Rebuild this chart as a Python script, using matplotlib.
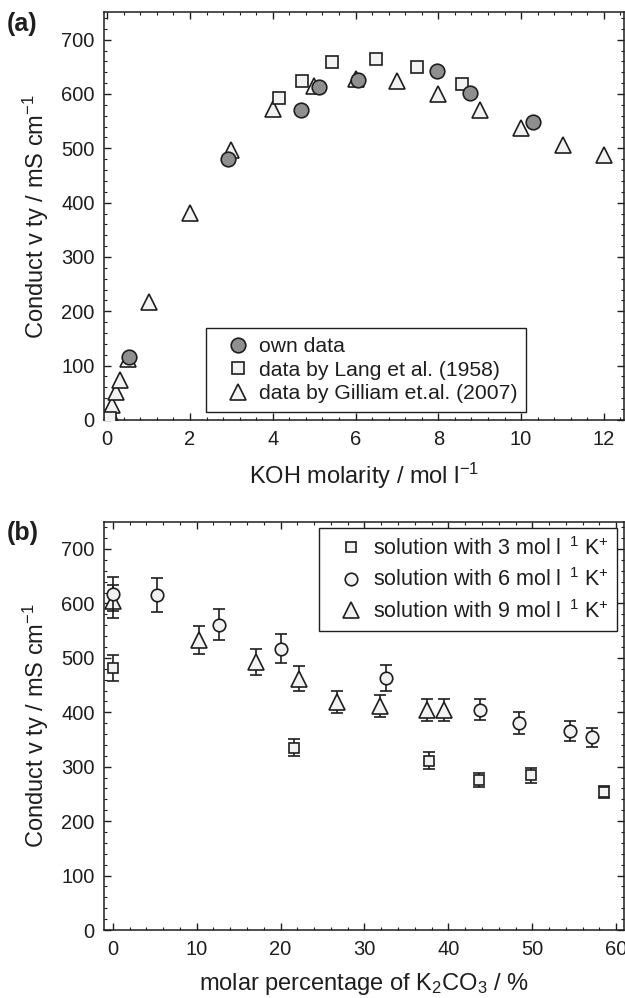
import numpy as np
import matplotlib
matplotlib.use('Agg')
import matplotlib.pyplot as plt
from matplotlib.ticker import MultipleLocator

plt.rcParams['font.family'] = ['Liberation Sans', 'DejaVu Sans']
plt.rcParams['mathtext.fontset'] = 'custom'
plt.rcParams['mathtext.rm'] = 'Liberation Sans'
plt.rcParams['mathtext.it'] = 'Liberation Sans:italic'
plt.rcParams['mathtext.bf'] = 'Liberation Sans:bold'
plt.rcParams['text.color'] = '#1e1e1e'
plt.rcParams['axes.labelcolor'] = '#1e1e1e'
plt.rcParams['xtick.color'] = '#1e1e1e'
plt.rcParams['ytick.color'] = '#1e1e1e'

# ---- panel (a): conductivity vs KOH molarity ----
own_x = [0.53, 2.91, 4.69, 5.11, 6.07, 7.97, 8.77, 10.29]
own_y = [116, 481, 570, 612, 626, 642, 602, 549]

lang_x = [0.0, 0.03, 0.06, 4.14, 4.70, 5.42, 6.50, 7.48, 8.57]
lang_y = [1, 2, 4, 592, 624, 658, 665, 649, 619]

gill_x = [0.01, 0.06, 0.11, 0.22, 0.30, 0.50, 1, 2, 3, 4, 5, 6, 7, 8, 9, 10, 11, 12]
gill_y = [2, 12, 28, 52, 73, 113, 217, 381, 496, 573, 615, 627, 624, 600, 570, 537, 506, 487]

# ---- panel (b): conductivity vs K2CO3 share ----
k3_x = [0, 21.6, 37.7, 43.7, 49.9, 58.6]
k3_y = [482, 335, 311, 276, 284, 253]
k3_e = [24, 16, 16, 13, 13, 11]

k6_x = [0, 5.3, 12.7, 20.0, 32.6, 43.8, 48.4, 54.5, 57.1]
k6_y = [617, 616, 561, 517, 463, 405, 380, 366, 354]
k6_e = [31, 31, 28, 26, 23, 20, 20, 18, 18]

k9_x = [0, 10.3, 17.1, 22.2, 26.7, 31.9, 37.4, 39.5]
k9_y = [604, 533, 492, 462, 419, 411, 404, 404]
k9_e = [30, 26, 24, 23, 20, 20, 20, 20]

light = '#f2f2f2'
dark = '#8f8f8f'
ink = '#1e1e1e'

fig = plt.figure(figsize=(6.25, 9.98), dpi=100)
ax1 = fig.add_axes([0.167, 0.5792, 0.831, 0.4083])
ax2 = fig.add_axes([0.167, 0.0681, 0.831, 0.4091])

ax1.plot(gill_x, gill_y, ls='none', marker='^', ms=12, mfc=light, mec=ink, mew=1.2,
         label='data by Gilliam et.al. (2007)', zorder=3)
ax1.plot(lang_x, lang_y, ls='none', marker='s', ms=8.5, mfc=light, mec=ink, mew=1.2,
         label='data by Lang et al. (1958)', zorder=4)
ax1.plot(own_x, own_y, ls='none', marker='o', ms=10.5, mfc=dark, mec=ink, mew=1.2,
         label='own data', zorder=5)

h, l = ax1.get_legend_handles_labels()
leg1 = ax1.legend(h[::-1], l[::-1], loc='lower left', bbox_to_anchor=(0.195, 0.019),
                  borderaxespad=0, fontsize=15.2, frameon=True, fancybox=False,
                  edgecolor=ink, framealpha=1, numpoints=1, borderpad=0.42,
                  handlelength=2.2, handletextpad=-0.1, labelspacing=0.22)
leg1.get_frame().set_linewidth(1.0)

ax1.set_xlim(-0.07, 12.48)
ax1.set_ylim(0, 750)
ax1.xaxis.set_major_locator(MultipleLocator(2))
ax1.xaxis.set_minor_locator(MultipleLocator(0.4))
ax1.yaxis.set_major_locator(MultipleLocator(100))
ax1.yaxis.set_minor_locator(MultipleLocator(20))
ax1.set_xlabel('KOH molarity / mol l$^{-1}$', fontsize=17, labelpad=9)
ax1.set_ylabel('Conduct v ty / mS cm$^{-1}$', fontsize=17, labelpad=7)

eb = dict(ls='none', ecolor=ink, elinewidth=1.2, capsize=4.5, capthick=1.2, mec=ink, mew=1.2, mfc=light)
ax2.errorbar(k3_x, k3_y, yerr=k3_e, marker='s', ms=7.5, label='solution with 3 mol l$^{\\ \\ 1}$ K$^{+}$', zorder=3, **eb)
ax2.errorbar(k6_x, k6_y, yerr=k6_e, marker='o', ms=9, label='solution with 6 mol l$^{\\ \\ 1}$ K$^{+}$', zorder=4, **eb)
ax2.errorbar(k9_x, k9_y, yerr=k9_e, marker='^', ms=11.5, label='solution with 9 mol l$^{\\ \\ 1}$ K$^{+}$', zorder=3, **eb)

h2, l2 = ax2.get_legend_handles_labels()
h2 = [hh[0] for hh in h2]
leg2 = ax2.legend(h2, l2, loc='upper right', bbox_to_anchor=(0.987, 0.984),
                  borderaxespad=0, fontsize=15.5, frameon=True, fancybox=False,
                  edgecolor=ink, framealpha=1, numpoints=1, borderpad=0.4,
                  handlelength=2.2, handletextpad=-0.1, labelspacing=0.4)
leg2.get_frame().set_linewidth(1.0)

ax2.set_xlim(-1, 60.9)
ax2.set_ylim(0, 750)
ax2.xaxis.set_major_locator(MultipleLocator(10))
ax2.xaxis.set_minor_locator(MultipleLocator(2))
ax2.yaxis.set_major_locator(MultipleLocator(100))
ax2.yaxis.set_minor_locator(MultipleLocator(20))
ax2.set_xlabel('molar percentage of K$_2$CO$_3$ / %', fontsize=17, labelpad=9)
ax2.set_ylabel('Conduct v ty / mS cm$^{-1}$', fontsize=17, labelpad=7)

for ax in (ax1, ax2):
    ax.tick_params(which='both', direction='in', top=True, right=True, labelsize=14.5, pad=7)
    ax.tick_params(which='major', length=5, width=1.0)
    ax.tick_params(which='minor', length=2.5, width=0.8)
    for s in ax.spines.values():
        s.set_linewidth(1.1)
        s.set_color(ink)

fig.text(0.010, 0.988, '(a)', fontsize=18, fontweight='bold', va='top', ha='left')
fig.text(0.010, 0.478, '(b)', fontsize=18, fontweight='bold', va='top', ha='left')

fig.savefig('out.png', dpi=100)
